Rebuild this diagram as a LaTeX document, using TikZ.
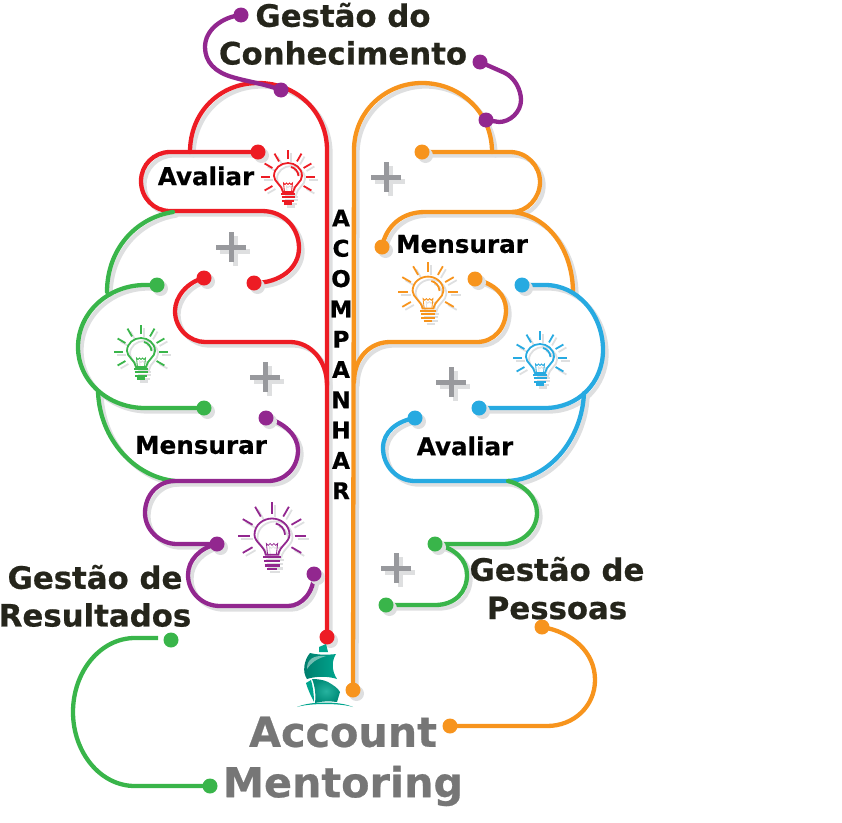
\documentclass[tikz,border=0pt]{standalone}
\usepackage{fontspec}
\setmainfont[BoldFeatures={FakeBold=0.6}]{DejaVu Sans}
\usetikzlibrary{backgrounds,shadows}
\definecolor{cred}{HTML}{ED1C24}
\definecolor{corange}{HTML}{F7941D}
\definecolor{cgreen}{HTML}{39B54A}
\definecolor{cpurple}{HTML}{92278F}
\definecolor{cblue}{HTML}{27AAE1}
\definecolor{cplus}{HTML}{98999D}
\definecolor{cshadow}{HTML}{DEDFE0}
\definecolor{cdark}{HTML}{25251B}
\definecolor{cgrey}{HTML}{767676}
\definecolor{cship}{HTML}{00A58E}
\tikzset{
  wire/.style={line width=4.3pt,line cap=round},
  wireshadow/.style={line width=4.3pt,line cap=round,draw=cshadow,transform canvas={xshift=3.5pt,yshift=-3.5pt}},
  bare dot/.style={circle,fill=#1,inner sep=0pt,minimum size=15pt},
  dot/.style={bare dot=#1,
    drop shadow={shadow xshift=3.5pt,shadow yshift=-3.5pt,fill=cshadow,opacity=1}},
  small label/.style={font=\fontsize{24.6}{24.6}\selectfont\bfseries,text=black,inner sep=0pt},
  big label/.style={font=\fontsize{30.8}{30.8}\selectfont\bfseries,text=cdark,inner sep=0pt},
  brand label/.style={font=\fontsize{41.3}{41.3}\selectfont\bfseries,text=cgrey,inner sep=0pt},
  letter/.style={font=\fontsize{23}{23}\selectfont\bfseries,text=black,inner sep=0pt},
  plus/.style={line width=5pt,draw=cplus},
}
% the wires, drawn once for the shadows and once in colour
\newcommand{\allwires}{
  \wire{cred}{(redEnd.center) -- (327,150) .. controls (327,112) and (297,83) .. (258,83) .. controls (220,83) and (190,112) .. (190,152)}
  \wire{cred}{(redTop.center) -- (170,152) .. controls (154,152) and (141,165) .. (141,181) .. controls (141,198) and (154,211) .. (170,211) -- (262,211) .. controls (283,211) and (299,227) .. (299,248) .. controls (299,268) and (280,283) .. (redMid.center)}
  \wire{cred}{(redLow.center) .. controls (187,282) and (175,297) .. (175,311) .. controls (175,329) and (190,342) .. (205,342) -- (290,342) .. controls (310,342) and (327,360) .. (327,385)}
  \wire{cgreen}{(173,212) .. controls (135,218) and (107,250) .. (107,292)}
  \wire{cgreen}{(greenTop.center) -- (145,285) .. controls (108,285) and (78,313) .. (78,347) .. controls (78,381) and (108,408) .. (145,408) -- (greenMid.center)}
  \wire{cgreen}{(98,392) .. controls (100,440) and (135,477) .. (175,481)}
  \wire{cpurple}{(purpleTop.center) .. controls (283,422) and (298,435) .. (298,450) .. controls (298,468) and (285,481) .. (268,481) -- (175,481) .. controls (158,481) and (145,495) .. (145,513) .. controls (145,530) and (160,544) .. (177,544) -- (purpleMid.center)}
  \wire{cpurple}{(purpleMid.center) .. controls (200,548) and (188,560) .. (188,575) .. controls (188,592) and (202,606) .. (220,606) -- (288,606) .. controls (302,606) and (314,592) .. (purpleLow.center)}
  \wire{corange}{(orangeEnd.center) -- (354,150) .. controls (354,112) and (385,83) .. (422,83) .. controls (460,83) and (492,112) .. (492,152)}
  \wire{corange}{(orangeTop.center) -- (510,152) .. controls (527,152) and (540,166) .. (540,182) .. controls (540,198) and (527,212) .. (512,212) -- (425,212) .. controls (402,212) and (386,226) .. (orangeMid.center)}
  \wire{corange}{(512,212) .. controls (548,215) and (573,250) .. (573,293)}
  \wire{corange}{(orangeLow.center) .. controls (495,284) and (506,295) .. (506,310) .. controls (506,328) and (494,342) .. (477,342) -- (390,342) .. controls (370,342) and (354,358) .. (354,382)}
  \wire{cblue}{(blueTop.center) -- (545,285) .. controls (578,285) and (603,315) .. (603,350) .. controls (603,383) and (578,408) .. (545,408) -- (blueMid.center)}
  \wire{cblue}{(584,393) .. controls (582,440) and (548,481) .. (505,481) -- (415,481) .. controls (397,481) and (383,466) .. (383,448) .. controls (383,432) and (397,421) .. (blueLow.center)}
  \wire{cgreen}{(508,481) .. controls (525,485) and (537,498) .. (537,513) .. controls (537,530) and (522,544) .. (503,544) -- (greenRight.center)}
  \wire{cgreen}{(greenRight.center) .. controls (455,548) and (467,560) .. (467,575) .. controls (467,592) and (455,605) .. (435,605) -- (greenFoot.center)}
}
% these four have no shadow
\newcommand{\barewires}{
  \draw[wire,draw=cpurple] (purpleUp.center) .. controls (222,17) and (205,30) .. (205,47) .. controls (205,62) and (215,72) .. (232,77) .. controls (245,81) and (265,84) .. (purpleJoin.center);
  \draw[wire,draw=cpurple] (purpleRight.center) -- (505,73) .. controls (515,78) and (521,90) .. (521,100) .. controls (521,112) and (510,122) .. (499,122) -- (purpleDown.center);
  \draw[wire,draw=cgreen,line cap=butt] (greenGap) -- (135,638) .. controls (100,638) and (73,672) .. (73,712) .. controls (73,752) and (100,786) .. (135,786) -- (greenEnd.center);
  \draw[wire,draw=corange] (orangeUp.center) .. controls (572,632) and (595,652) .. (595,680) .. controls (595,706) and (574,726) .. (547,726) -- (orangeRight.center);
}
% one lamp, its centre at (0,0)
\newcommand{\lamp}{
  \draw (-5,15) .. controls (-6,8) and (-14,5) .. (-14,-1) .. controls (-14,-9) and (-7,-14) .. (0,-14)
     .. controls (7,-14) and (14,-9) .. (14,-1) .. controls (14,5) and (6,8) .. (5,15) -- cycle;
  \draw[line width=.8pt] (-3.5,15) -- (-4.5,6) -- (-3,7.5) -- (-1.5,6) -- (0,7.5) -- (1.5,6) -- (3,7.5) -- (4.5,6) -- (3.5,15);
  \draw (3,-10) .. controls (7,-9) and (10,-6) .. (10.5,-1);
  \draw[line width=2.1pt] (-7,17) -- (7,17) (-6.5,20.3) -- (6.5,20.3) (-6,23.6) -- (6,23.6) (-4,26.5) -- (4,26.5);
  \foreach \ang in {0,30,60,90,120,150,180,210,-30}
    \draw (-\ang:18) -- (-\ang:27);
}
\newcommand{\bulbicon}[4]{
  \begin{scope}[shift={(#1+3,#2+3)},scale=#4,line width=1.8pt,color=cshadow]\lamp\end{scope}
  \begin{scope}[shift={(#1,#2)},scale=#4,line width=1.8pt,color=#3]\lamp\end{scope}
}
\newcommand{\plusmark}[2]{
  \draw[plus,draw=cshadow] (#1-11,#2+4) -- (#1+19,#2+4) (#1+4,#2-11) -- (#1+4,#2+19);
  \draw[plus] (#1-15,#2) -- (#1+15,#2) (#1,#2-15) -- (#1,#2+15);
}
\begin{document}
\begin{tikzpicture}[x=1pt,y=-1pt]
  \useasboundingbox (0,0) rectangle (842,822);

  % end points of the wires
  \node[dot=cred] (redEnd) at (327,637) {};
  \node[dot=cred] (redTop) at (258,152) {};
  \node[dot=cred] (redMid) at (254,283) {};
  \node[dot=cred] (redLow) at (204,278) {};
  \node[dot=cgreen] (greenTop) at (157,285) {};
  \node[dot=cgreen] (greenMid) at (204,408) {};
  \node[bare dot=cgreen] (greenLow) at (171,640) {};
  \coordinate (greenGap) at (158,638);
  \node[bare dot=cgreen] (greenEnd) at (210,786) {};
  \node[dot=cgreen] (greenRight) at (435,544) {};
  \node[dot=cgreen] (greenFoot) at (386,605) {};
  \node[dot=cpurple] (purpleTop) at (266,418) {};
  \node[dot=cpurple] (purpleMid) at (217,544) {};
  \node[dot=cpurple] (purpleLow) at (314,574) {};
  \node[bare dot=cpurple] (purpleUp) at (241,15) {};
  \node[bare dot=cpurple] (purpleJoin) at (281,90) {};
  \node[bare dot=cpurple] (purpleRight) at (480,62) {};
  \node[bare dot=cpurple] (purpleDown) at (486,120) {};
  \node[dot=corange] (orangeEnd) at (353,690) {};
  \node[dot=corange] (orangeTop) at (422,152) {};
  \node[dot=corange] (orangeMid) at (382,247) {};
  \node[dot=corange] (orangeLow) at (475,279) {};
  \node[bare dot=corange] (orangeUp) at (542,627) {};
  \node[bare dot=corange] (orangeRight) at (450,726) {};
  \node[dot=cblue] (blueTop) at (522,285) {};
  \node[dot=cblue] (blueMid) at (479,408) {};
  \node[dot=cblue] (blueLow) at (415,418) {};

  \begin{scope}[on background layer]
    \newcommand{\wire}[2]{\draw[wireshadow] #2;}
    \allwires
    \renewcommand{\wire}[2]{\draw[wire,draw=#1] #2;}
    \allwires
    \barewires
  \end{scope}

  % labels
  \node[big label] (know1) at (343,15) {Gestão do};
  \node[big label] (know2) at (343,53) {Conhecimento};
  \node[big label] (result1) at (95,577) {Gestão de};
  \node[big label] (result2) at (95,615) {Resultados};
  \node[big label] (people1) at (557,569) {Gestão de};
  \node[big label] (people2) at (557,608) {Pessoas};
  \node[small label] (eval1) at (206,176) {Avaliar};
  \node[small label] (eval2) at (465,446) {Avaliar};
  \node[small label] (measure1) at (462,244) {Mensurar};
  \node[small label] (measure2) at (201,445) {Mensurar};
  \node[brand label] (brand1) at (343,732) {Account};
  \node[brand label] (brand2) at (343,786) {Mentoring};
  \foreach \ch [count=\i] in {A,C,O,M,P,A,N,H,A,R}
    \node[letter] (follow\i) at (341,218+30.3*\i-30.3) {\ch};

  % lamps and plus signs
  \bulbicon{288}{177}{cred}{1}
  \bulbicon{141}{352}{cgreen}{1}
  \bulbicon{428}{292}{corange}{1.1}
  \bulbicon{540}{358}{cblue}{1}
  \bulbicon{272}{536}{cpurple}{1.25}
  \plusmark{231}{247}
  \plusmark{265}{377}
  \plusmark{386}{177}
  \plusmark{451}{382}
  \plusmark{396}{568}

  % ship
  \fill[cship] (319,647) -- (326,644) -- (328,652) -- (319,652) -- cycle;
  \shade[left color=cship!75!black,right color=cship]
    (310,653) .. controls (318,655) and (328,655) .. (336,654) .. controls (332,660) and (331,670) .. (337,679) .. controls (328,676) and (316,676) .. (307,679) .. controls (302,672) and (304,660) .. (310,653) -- cycle;
  \fill[white,opacity=.45] (307,669) .. controls (307,660) and (312,655) .. (326,656) .. controls (316,659) and (311,663) .. (307,669) -- cycle;
  \shade[inner color=cship!85!white,outer color=cship!85!black]
    (312,679) .. controls (318,679) and (324,680) .. (328,682) .. controls (333,685) and (338,688) .. (340,692) -- (337,702) .. controls (330,701) and (322,701) .. (315,703) .. controls (316,695) and (315,686) .. (312,679) -- cycle;
  \fill[cship] (306,683) -- (311,680) .. controls (313,687) and (314,695) .. (314,702) .. controls (311,696) and (308,690) .. (306,683) -- cycle;
  \fill[cship] (297,707) .. controls (310,701) and (340,701) .. (353,707) .. controls (340,703) and (310,703) .. (297,707) -- cycle;
\end{tikzpicture}
\end{document}
